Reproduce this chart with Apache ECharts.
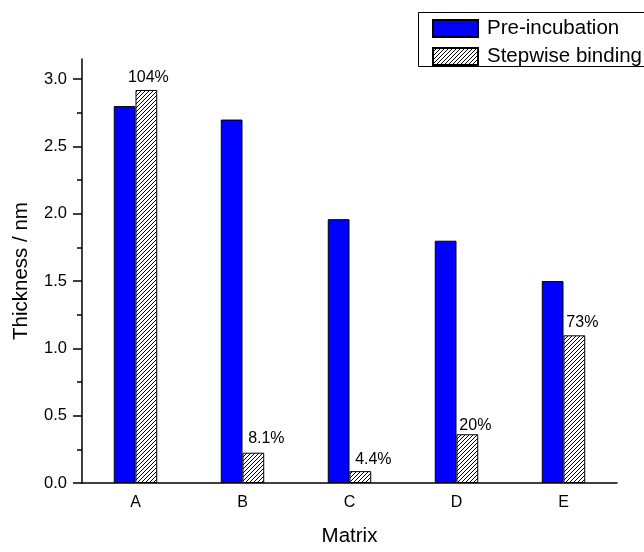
<!DOCTYPE html>
<html><head><meta charset="utf-8">
<script src="https://cdn.jsdelivr.net/npm/echarts@6/dist/echarts.min.js"></script>
<style>html,body{margin:0;padding:0;background:#fff}#c{width:644px;height:552px}</style>
</head><body><div id="c"></div>
<script>
const categories = ['A', 'B', 'C', 'D', 'E'];
const preIncubation = [2.80, 2.70, 1.96, 1.80, 1.50];
const stepwiseBinding = [2.92, 0.225, 0.088, 0.362, 1.097];
const stepwiseLabels = ['104%', '8.1%', '4.4%', '20%', '73%'];
const yTicks = [0, 0.5, 1.0, 1.5, 2.0, 2.5, 3.0];
const yMinorTicks = [0.25, 0.75, 1.25, 1.75, 2.25, 2.75];
// label placement tweaks (style only)
const labelShift = [[2, -2], [13, -4], [13, -2], [8, 1], [8, -3]];

function hatch() {
  const s = 4, c = document.createElement('canvas');
  c.width = s; c.height = s;
  const g = c.getContext('2d');
  g.fillStyle = '#fff'; g.fillRect(0, 0, s, s);
  g.strokeStyle = '#000'; g.lineWidth = 1;
  g.beginPath();
  g.moveTo(0, s); g.lineTo(s, 0);
  g.moveTo(-1, 1); g.lineTo(1, -1);
  g.moveTo(s - 1, s + 1); g.lineTo(s + 1, s - 1);
  g.stroke();
  return c;
}

const chart = echarts.init(document.getElementById('c'), null, { renderer: 'canvas' });
const font = 'Liberation Sans, Arial, sans-serif';
chart.setOption({
  backgroundColor: '#fff',
  animation: false,
  textStyle: { fontFamily: font, color: '#000' },
  grid: { left: 82, right: 27, top: 59, bottom: 63, containLabel: false },
  graphic: [{
    type: 'rect', z: 0, silent: true,
    shape: { x: 418.5, y: 12.5, width: 260, height: 54 },
    style: { fill: 'none', stroke: '#000', lineWidth: 1 }
  }],
  legend: {
    data: ['Pre-incubation', 'Stepwise binding'],
    orient: 'vertical', left: 418, top: 13,
    icon: 'rect', itemWidth: 45, itemHeight: 17, itemGap: 7,
    padding: [5, 0, 2, 14],
    textStyle: { fontSize: 20.5, color: '#000', fontFamily: font, padding: [0, 0, 0, 4] }
  },
  xAxis: {
    type: 'category', data: categories,
    name: 'Matrix', nameLocation: 'middle', nameGap: 43,
    nameTextStyle: { fontSize: 20.5, color: '#000', fontFamily: font },
    axisLine: { lineStyle: { color: '#000', width: 1.5 } },
    axisTick: { alignWithLabel: true, length: 9, lineStyle: { color: '#000', width: 1.5 } },
    axisLabel: { fontSize: 16, color: '#000', margin: 12, fontFamily: font },
    splitLine: { show: false }
  },
  yAxis: [{
    type: 'value', min: 0, max: 3.15, interval: 0.5,
    name: 'Thickness / nm', nameLocation: 'middle', nameGap: 50,
    nameTextStyle: { fontSize: 20.5, color: '#000', fontFamily: font },
    axisLine: { show: true, lineStyle: { color: '#000', width: 1.5 } },
    axisTick: { show: true, length: 9, customValues: yTicks, lineStyle: { color: '#000', width: 1.5 } },
    axisLabel: { fontSize: 16.5, color: '#000', margin: 15, customValues: yTicks,
      formatter: v => Number(v).toFixed(1), fontFamily: font },
    splitLine: { show: false }
  }, {
    type: 'value', min: 0, max: 3.15, position: 'left',
    axisLine: { show: false },
    axisTick: { show: true, length: 5, customValues: yMinorTicks, lineStyle: { color: '#000', width: 1.5 } },
    axisLabel: { show: false },
    splitLine: { show: false }
  }],
  series: [{
    name: 'Pre-incubation', type: 'bar', yAxisIndex: 0,
    data: preIncubation, barWidth: '20.3%', barGap: '0%',
    itemStyle: { color: '#0000ff', borderColor: '#000', borderWidth: 1 }
  }, {
    name: 'Stepwise binding', type: 'bar', yAxisIndex: 0,
    data: stepwiseBinding.map((v, i) => ({
      value: v,
      label: { offset: labelShift[i], formatter: stepwiseLabels[i] }
    })),
    barWidth: '20.3%', barGap: '0%',
    itemStyle: { color: { image: hatch(), repeat: 'repeat' }, borderColor: '#000', borderWidth: 1 },
    label: { show: true, position: 'top', distance: 2, fontSize: 16, color: '#000', fontFamily: font }
  }]
});
</script>
</body></html>
